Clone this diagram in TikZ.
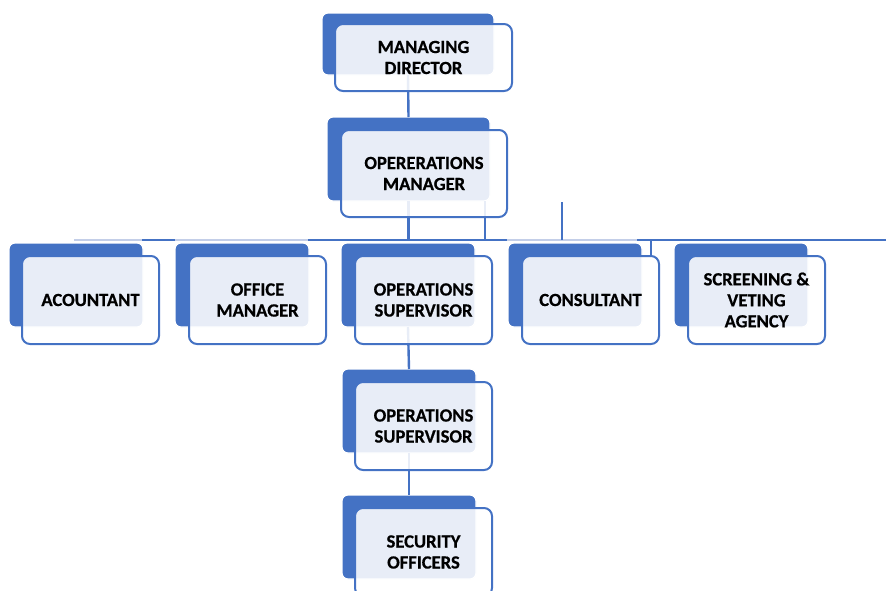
\documentclass[tikz,border=0pt]{standalone}
\usepackage{fontspec}
\setmainfont{Carlito}[BoldFeatures={FakeBold=0.6}]
\definecolor{orgblue}{HTML}{4472C4}
\definecolor{buslight}{HTML}{C3CEE8}
\tikzset{
  backbox/.style={fill=orgblue, draw=white, line width=1.2pt, rounded corners=6pt,
    inner sep=0pt, outer sep=0pt, anchor=north west},
  frontbox/.style={fill=white, fill opacity=0.88, text opacity=1, draw=orgblue,
    line width=2pt, rounded corners=8pt, inner sep=0pt, outer sep=0pt,
    anchor=north west, align=center, text=black,
    font=\bfseries\fontsize{18.6}{21}\selectfont},
  link/.style={draw=orgblue, line width=2.4pt},
  buslink/.style={draw=buslight, line width=2pt},
  busdark/.style={draw=orgblue, line width=2pt}
}
\begin{document}
\begin{tikzpicture}[x=1pt,y=-1pt]
\useasboundingbox (0,0) rectangle (886,590);

% ---------- blue backing tabs ----------
\node[backbox, minimum width=172pt, minimum height=62pt] (mdback)  at (322,13)  {};
\node[backbox, minimum width=163pt, minimum height=84pt] (omback)  at (327,117) {};
\node[backbox, minimum width=134pt, minimum height=84pt] (acback)  at (9,243)   {};
\node[backbox, minimum width=134pt, minimum height=84pt] (ofback)  at (175,243) {};
\node[backbox, minimum width=134pt, minimum height=84pt] (osaback) at (341,243) {};
\node[backbox, minimum width=134pt, minimum height=84pt] (coback)  at (508,243) {};
\node[backbox, minimum width=134pt, minimum height=84pt] (scback)  at (674,243) {};
\node[backbox, minimum width=134pt, minimum height=84pt] (osbback) at (342,369) {};
\node[backbox, minimum width=134pt, minimum height=84pt] (soback)  at (342,495) {};

% ---------- connectors ----------
\coordinate (buswest) at (74,240);
\coordinate (buseast) at (886,240);
\coordinate (omright) at (485,201);
\coordinate (stray)   at (562,202);
\coordinate (scdrop)  at (651,240);

\draw[buslink] (buswest) -- (buseast);
\draw[busdark] (142,240) -- (175,240);
\draw[busdark] (308,240) -- (507,240);
\draw[busdark] (637,240) -- (buseast);

\draw[link] (mdback.south) -- (omback.north);
\draw[link] (omback.south) -- (omback.south |- buswest);
\draw[link] (omright) -- (omright |- buswest);
\draw[link] (stray) -- (stray |- buswest);
\draw[link] (scdrop) -- ++(0,17);
\draw[link] (osaback.south) -- (osbback.north);
\draw[link] (osbback.south) -- (soback.north);

% ---------- front cards ----------
\node[frontbox, minimum width=177pt, minimum height=67pt] (md)  at (335,24)  {MANAGING\\DIRECTOR};
\node[frontbox, minimum width=166pt, minimum height=87pt] (om)  at (341,130) {OPERERATIONS\\MANAGER};
\node[frontbox, minimum width=137pt, minimum height=88pt] (ac)  at (22,256)  {ACOUNTANT};
\node[frontbox, minimum width=137pt, minimum height=88pt] (of)  at (189,256) {OFFICE\\MANAGER};
\node[frontbox, minimum width=137pt, minimum height=88pt] (osa) at (355,256) {OPERATIONS\\SUPERVISOR};
\node[frontbox, minimum width=137pt, minimum height=88pt] (co)  at (522,256) {CONSULTANT};
\node[frontbox, minimum width=137pt, minimum height=88pt] (sc)  at (688,256) {SCREENING \&\\VETING\\AGENCY};
\node[frontbox, minimum width=137pt, minimum height=88pt] (osb) at (355,382) {OPERATIONS\\SUPERVISOR};
\node[frontbox, minimum width=137pt, minimum height=88pt] (so)  at (355,508) {SECURITY\\OFFICERS};
\end{tikzpicture}
\end{document}
